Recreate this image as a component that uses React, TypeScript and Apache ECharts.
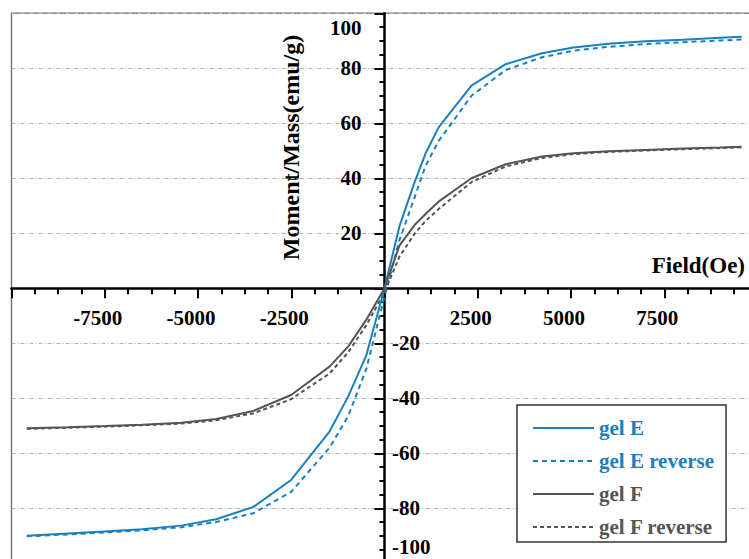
import React, { useEffect, useRef } from "react";
import * as echarts from "echarts";

// Field (Oe) sample points
const fieldValues = [
  -9590, -8500, -7500, -6500, -5450, -4515, -3514, -2503, -1475, -975, -491, 0,
  400, 805, 1100, 1450, 2330, 3250, 4220, 5065, 6000, 7000, 8000, 9000, 9575,
];

// Moment/Mass (emu/g)
const gelE = [
  -90.0, -89.2, -88.4, -87.6, -86.3, -84.0, -79.5, -69.7, -52.1, -39.4, -24.5, 0,
  22.5, 38.5, 49.0, 58.5, 73.7, 81.5, 85.5, 87.6, 88.9, 89.8, 90.4, 91.1, 91.5,
];
const gelEReverse = [
  -90.2, -89.5, -88.8, -88.0, -86.9, -85.0, -81.8, -74.0, -58.0, -46.5, -29.5, -3.0,
  17.5, 33.0, 44.5, 53.5, 70.0, 79.4, 84.0, 86.4, 87.8, 88.8, 89.5, 90.1, 90.5,
];
const gelF = [
  -50.9, -50.5, -50.1, -49.6, -48.9, -47.5, -44.6, -38.8, -28.5, -21.2, -11.5, 0,
  15.5, 23.0, 27.0, 31.5, 40.0, 45.1, 47.9, 49.1, 49.8, 50.3, 50.8, 51.2, 51.5,
];
const gelFReverse = [
  -51.1, -50.7, -50.3, -49.8, -49.2, -48.0, -45.5, -40.3, -31.0, -23.3, -13.5, -1.5,
  11.5, 19.8, 24.5, 28.8, 38.6, 44.3, 47.4, 48.8, 49.6, 50.1, 50.6, 51.0, 51.3,
];

const seriesNames = ["gel E", "gel E reverse", "gel F", "gel F reverse"];

const X_MIN = -10000;
const X_MAX = 10000;
const Y_MIN = -100;
const Y_MAX = 100;

const BLUE = "#1a80bd";
const GRAY = "#555555";
const FONT = '"Liberation Serif", "Times New Roman", serif';

const pairs = (ys: number[]) => fieldValues.map((f, i) => [f, ys[i]]);

// plot frame geometry
const GRID_LEFT = 11.5;
const GRID_TOP = 13.3;
const GRID_W = 746;
const GRID_H = 550;
// distance from grid edges to the zero lines
const ZERO_X_FROM_LEFT = (GRID_W * (0 - X_MIN)) / (X_MAX - X_MIN);
const ZERO_Y_FROM_BOTTOM = (GRID_H * (0 - Y_MIN)) / (Y_MAX - Y_MIN);

export default function App() {
  const ref = useRef<HTMLDivElement>(null);

  useEffect(() => {
    if (!ref.current) return;
    const chart = echarts.init(ref.current, undefined, { renderer: "svg" });
    const labelFont = {
      fontFamily: FONT,
      fontWeight: "bold" as const,
      fontSize: 21,
      color: "#000",
    };

    const option: any = {
      animation: false,
      backgroundColor: "#ffffff",
      grid: {
        left: GRID_LEFT,
        top: GRID_TOP,
        width: GRID_W,
        height: GRID_H,
        containLabel: false,
        outerBoundsMode: "none",
        show: true,
        borderColor: "#777777",
        borderWidth: 1.5,
        backgroundColor: "transparent",
      },
      xAxis: {
        type: "value",
        min: X_MIN,
        max: X_MAX,
        interval: 2500,
        position: "bottom",
        offset: -ZERO_Y_FROM_BOTTOM,
        axisLine: { onZero: false, lineStyle: { color: "#000", width: 2.5 } },
        axisTick: { show: true, length: 10, lineStyle: { color: "#000", width: 2 } },
        minorTick: { show: true, splitNumber: 4, length: 6, lineStyle: { color: "#000", width: 2 } },
        splitLine: { show: false },
        axisLabel: {
          ...labelFont,
          margin: 19,
          padding: [0, 14, 0, 0],
          showMinLabel: true,
          showMaxLabel: true,
          formatter: (v: number) => (v === 0 || Math.abs(v) >= 10000 ? "" : String(v)),
        },
      },
      yAxis: [
        {
          type: "value",
          min: Y_MIN,
          max: Y_MAX,
          interval: 20,
          position: "left",
          offset: -ZERO_X_FROM_LEFT,
          axisLine: { onZero: false, lineStyle: { color: "#000", width: 2.5 } },
          axisTick: { show: true, length: 10, lineStyle: { color: "#000", width: 2 } },
          minorTick: { show: true, splitNumber: 4, length: 5, lineStyle: { color: "#000", width: 2 } },
          splitLine: { show: true, lineStyle: { color: "#b0b0b0", width: 1, type: [4, 2, 1, 2] } },
          axisLabel: {
            ...labelFont,
            margin: 23,
            showMinLabel: true,
            showMaxLabel: true,
            formatter: (v: number) => (v <= 0 ? "" : v === 100 ? "{t|100}" : String(v)),
            rich: { t: { ...labelFont, padding: [30, 0, 0, 0] } },
          },
        },
        {
          type: "value",
          min: Y_MIN,
          max: Y_MAX,
          interval: 20,
          position: "right",
          offset: -(GRID_W - ZERO_X_FROM_LEFT),
          axisLine: { show: false, onZero: false },
          axisTick: { show: false },
          splitLine: { show: false },
          axisLabel: {
            ...labelFont,
            margin: 7.5,
            showMinLabel: true,
            showMaxLabel: true,
            formatter: (v: number) => (v >= 0 ? "" : v === -100 ? "{b|-100}" : String(v)),
            rich: { b: { ...labelFont, padding: [0, 0, 32, 0] } },
          },
        },
      ],
      legend: {
        orient: "vertical",
        left: 517,
        top: 405,
        padding: [12.5, 12, 4.5, 15],
        itemWidth: 61,
        itemHeight: 14,
        itemGap: 12,
        borderColor: "#333333",
        borderWidth: 1.5,
        backgroundColor: "#ffffff",
        selectedMode: false,
        itemStyle: { opacity: 0 },
        textStyle: { fontFamily: FONT, fontWeight: "bold", fontSize: 21 },
        data: [
          { name: seriesNames[0], textStyle: { color: BLUE } },
          { name: seriesNames[1], textStyle: { color: BLUE } },
          { name: seriesNames[2], textStyle: { color: GRAY } },
          { name: seriesNames[3], textStyle: { color: GRAY } },
        ],
      },
      series: [
        {
          name: seriesNames[0],
          type: "line",
          data: pairs(gelE),
          showSymbol: false,
          symbol: "none",
          lineStyle: { color: BLUE, width: 2 },
          itemStyle: { color: BLUE },
          z: 4,
        },
        {
          name: seriesNames[1],
          type: "line",
          data: pairs(gelEReverse),
          showSymbol: false,
          symbol: "none",
          lineStyle: { color: BLUE, width: 2, type: [5, 4] },
          itemStyle: { color: BLUE },
          z: 3,
        },
        {
          name: seriesNames[2],
          type: "line",
          data: pairs(gelF),
          showSymbol: false,
          symbol: "none",
          lineStyle: { color: GRAY, width: 2 },
          itemStyle: { color: GRAY },
          z: 4,
        },
        {
          name: seriesNames[3],
          type: "line",
          data: pairs(gelFReverse),
          showSymbol: false,
          symbol: "none",
          lineStyle: { color: GRAY, width: 2, type: [4, 3] },
          itemStyle: { color: GRAY },
          z: 3,
        },
      ],
      graphic: [
        {
          type: "text",
          x: 291,
          y: 147.5,
          rotation: Math.PI / 2,
          style: {
            text: "Moment/Mass(emu/g)",
            font: `bold 24px ${FONT}`,
            fill: "#000",
            align: "center",
            verticalAlign: "middle",
            textAlign: "center",
            textVerticalAlign: "middle",
          },
        },
        {
          type: "text",
          x: 745,
          y: 265,
          style: {
            text: "Field(Oe)",
            font: `bold 23px ${FONT}`,
            fill: "#000",
            align: "right",
            verticalAlign: "middle",
            textAlign: "right",
            textVerticalAlign: "middle",
          },
        },
      ],
    };

    chart.setOption(option);
    return () => chart.dispose();
  }, []);

  return (
    <div
      ref={ref}
      style={{ position: "fixed", left: 0, top: 0, width: 749, height: 559, background: "#fff" }}
    />
  );
}
